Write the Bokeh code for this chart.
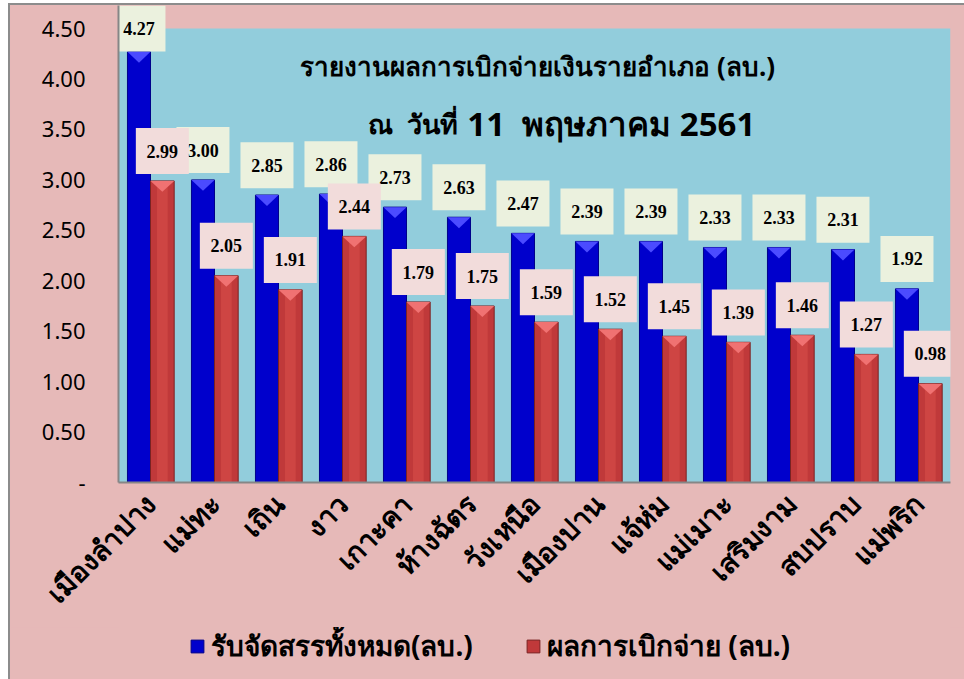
import numpy as np
from bokeh.plotting import figure
from bokeh.layouts import column
from bokeh.models import (FactorRange, Range1d, ColumnDataSource, FixedTicker, Label,
                          Legend, LegendItem, BoxAnnotation, CustomJSTickFormatter)
from bokeh.transform import dodge
from bokeh.core.properties import value
from bokeh.embed import file_html
from bokeh.resources import INLINE

# ---------------- data ----------------
districts = ["เมืองลำปาง", "แม่ทะ", "เถิน", "งาว", "เกาะคา", "ห้างฉัตร", "วังเหนือ",
             "เมืองปาน", "แจ้ห่ม", "แม่เมาะ", "เสริมงาม", "สบปราบ", "แม่พริก"]
allocated = [4.27, 3.00, 2.85, 2.86, 2.73, 2.63, 2.47, 2.39, 2.39, 2.33, 2.33, 2.31, 1.92]
disbursed = [2.99, 2.05, 1.91, 2.44, 1.79, 1.75, 1.59, 1.52, 1.45, 1.39, 1.46, 1.27, 0.98]
series_names = ["รับจัดสรรทั้งหมด(ลบ.)", "ผลการเบิกจ่าย (ลบ.)"]
y_ticks = [0.0, 0.5, 1.0, 1.5, 2.0, 2.5, 3.0, 3.5, 4.0, 4.5]
y_tick_labels = ["-", "0.50", "1.00", "1.50", "2.00", "2.50", "3.00", "3.50", "4.00", "4.50"]
title_line1 = "รายงานผลการเบิกจ่ายเงินรายอำเภอ (ลบ.)"
title_line2a = "ณ\u00a0 วันที่"
title_line2b = "11\u00a0 พฤษภาคม 2561"
y_max = 4.5

# ---------------- style ----------------
PINK = "#E6B9B8"
SKY = "#92CDDC"
BLUE = "#0000CC"
RED = "#C0393A"
BOX_BLUE = "#EBF1DE"
BOX_RED = "#F2DCDB"
THAI = "Noto Sans"
PX_PER_UNIT = 101.3
LAB_OFF = 30 / PX_PER_UNIT
W = 954
H_MAIN = 622
H_LEG = 52

a = np.array(allocated)
d = np.array(disbursed)
n = len(districts)
centers = np.arange(n) + 0.5

src = ColumnDataSource(dict(
    x=districts, a=allocated, d=disbursed,
    a_lab=np.minimum(a + LAB_OFF, y_max), d_lab=np.minimum(d + LAB_OFF, y_max),
    a_txt=[f"{v:.2f}" for v in allocated], d_txt=[f"{v:.2f}" for v in disbursed],
))

p = figure(x_range=FactorRange(*districts), y_range=Range1d(0, 4.729),
           width=W, height=H_MAIN, output_backend="svg", toolbar_location=None,
           min_border_left=108, min_border_right=14, min_border_top=0, min_border_bottom=143,
           background_fill_color=PINK, border_fill_color=PINK, outline_line_color=None)

p.add_layout(BoxAnnotation(bottom=0, top=y_max, fill_color=SKY, fill_alpha=1,
                           line_color=None, level="underlay"))
p.xgrid.grid_line_color = None
p.ygrid.grid_line_color = None

BW = 0.36
RW = 0.37
blue_style = dict(fill_color=BLUE, line_color="#00008A", line_width=1)
red_style = dict(fill_color=RED, line_color="#7A2222", line_width=1)
p.vbar(x=dodge("x", -BW / 2, range=p.x_range), top="a", width=BW, source=src, **blue_style)
p.vbar(x=dodge("x", RW / 2, range=p.x_range), top="d", width=RW, source=src, **red_style)
# lighter central sheen on red bars
p.vbar(x=dodge("x", RW / 2, range=p.x_range), top="d", width=RW * 0.45, source=src,
       fill_color="#D8504A", fill_alpha=0.55, line_color=None)

# bevel triangles on top of bars
tri_h = 11 / PX_PER_UNIT
bx = [[c - BW, c, c - BW / 2] for c in centers]
by = [[v, v, v - tri_h] for v in a]
rx = [[c, c + RW, c + RW / 2] for c in centers]
ry = [[v, v, v - tri_h] for v in d]
p.patches(bx, by, fill_color="#4B4BFF", line_color=None)
p.patches(rx, ry, fill_color="#F07272", line_color=None)

# value labels
p.rect(x=dodge("x", -BW / 2, range=p.x_range), y="a_lab", width=53, height=46,
       width_units="screen", height_units="screen", source=src,
       fill_color=BOX_BLUE, line_color=None)
p.text(x=dodge("x", -BW / 2, range=p.x_range), y="a_lab", text="a_txt", source=src,
       text_align="center", text_baseline="middle", text_font=value("Liberation Serif"),
       text_font_style="bold", text_font_size="18px", text_color="black")
p.rect(x=dodge("x", RW / 2, range=p.x_range), y="d_lab", width=53, height=46,
       width_units="screen", height_units="screen", source=src,
       fill_color=BOX_RED, line_color=None)
p.text(x=dodge("x", RW / 2, range=p.x_range), y="d_lab", text="d_txt", source=src,
       text_align="center", text_baseline="middle", text_font=value("Liberation Serif"),
       text_font_style="bold", text_font_size="18px", text_color="black")

# axes
p.yaxis.ticker = FixedTicker(ticks=y_ticks)
p.yaxis.formatter = CustomJSTickFormatter(args=dict(tvals=y_ticks, tlabels=y_tick_labels),
    code="const i = tvals.indexOf(tick); return i >= 0 ? tlabels[i] : '';")
p.yaxis.major_label_text_font = "Noto Sans"
p.yaxis.major_label_text_font_size = "22px"
p.yaxis.major_label_text_color = "black"
p.yaxis.major_label_standoff = 33
p.yaxis.major_tick_out = 0
p.yaxis.major_tick_in = 0
p.yaxis.minor_tick_out = 0
p.yaxis.minor_tick_in = 0
p.yaxis.axis_line_color = "#868686"
p.yaxis.axis_line_width = 2

p.xaxis.major_label_orientation = np.pi / 4
p.xaxis.major_label_text_font = THAI
p.xaxis.major_label_text_font_style = "bold"
p.xaxis.major_label_text_font_size = "28px"
p.xaxis.major_label_text_color = "black"
p.xaxis.major_label_standoff = 16
p.xaxis.major_tick_out = 0
p.xaxis.major_tick_in = 0
p.xaxis.axis_line_color = "#868686"
p.xaxis.axis_line_width = 2

# titles
p.add_layout(Label(x=6.55, y=4.126, text=title_line1, text_align="center",
                   text_baseline="middle", text_font=THAI, text_font_style="bold",
                   text_font_size="26px", text_color="black"))
p.add_layout(Label(x=5.30, y=3.56, text=title_line2a, text_align="right",
                   text_baseline="middle", text_font=THAI, text_font_style="bold",
                   text_font_size="27px", text_color="black"))
p.add_layout(Label(x=5.45, y=3.56, text=title_line2b, text_align="left",
                   text_baseline="middle", text_font=THAI, text_font_style="bold",
                   text_font_size="33px", text_color="black"))

# legend strip below the chart
lg = figure(x_range=Range1d(0, 1), y_range=Range1d(0, 1), width=W, height=H_LEG,
            x_axis_type=None, y_axis_type=None,
            output_backend="svg", toolbar_location=None,
            min_border_left=0, min_border_right=0, min_border_top=0, min_border_bottom=0,
            background_fill_color=PINK, border_fill_color=PINK, outline_line_color=None)
lg.grid.visible = False
dummy = ColumnDataSource(dict(x=[-1.0], top=[0.0]))  # off-screen placeholder for legend swatches
lb = lg.vbar(x="x", top="top", width=0.01, source=dummy, **blue_style)
lr = lg.vbar(x="x", top="top", width=0.01, source=dummy, **red_style)
legend = Legend(items=[LegendItem(label=series_names[0], renderers=[lb]),
                       LegendItem(label=series_names[1], renderers=[lr])],
                orientation="horizontal", location=(71, 11),
                background_fill_alpha=0, border_line_color=None,
                label_text_font=THAI, label_text_font_size="28px",
                label_text_font_style="bold", label_text_color="black",
                glyph_width=16, glyph_height=16, spacing=52, padding=0, margin=0,
                label_standoff=6)
lg.add_layout(legend)

layout = column(p, lg, spacing=0,
                styles={"border-left": "2px solid #8C8C8C", "border-top": "2px solid #8C8C8C",
                        "margin-left": "8px", "margin-top": "3px",
                        "background-color": PINK})

open("out.html", "w").write(file_html(layout, INLINE))
